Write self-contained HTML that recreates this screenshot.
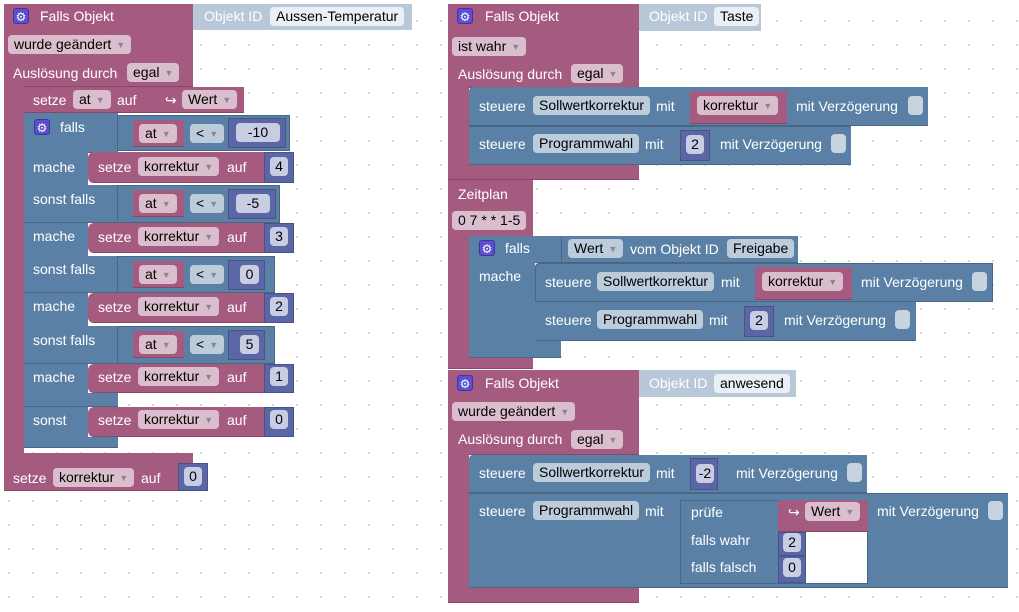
<!DOCTYPE html>
<html><head><meta charset="utf-8"><style>
*{margin:0;padding:0;box-sizing:border-box}
body{width:1019px;height:612px;overflow:hidden;background:#fff;
background-image:radial-gradient(circle,#d0d0d0 0.8px,transparent 1.2px);background-size:24px 24px;background-position:-3px 9px;
font-family:"Liberation Sans",Arial,sans-serif;font-size:14px;position:relative}
div{position:absolute}
.m{background:#a55b80;border-bottom:1px solid #84496a}
.u{background:#5b80a5;border-bottom:1px solid #496684}
.n{background:#5b67a5;border:1px solid #49528a}
.l{background:#b8c8d8}
.t{color:#fff;white-space:nowrap;line-height:19px;margin-top:1px}
.f{height:19px;line-height:19px;border-radius:4px;padding:0 6px;color:#000;white-space:nowrap}
.fm{background:#dbbecd}
.fu{background:#bdccdb}
.fl{background:#eaf0f5}
.fn{background:#c8cde3;text-align:center;padding:0}
.d{color:#888;font-size:9px;margin-left:5px;vertical-align:1px}
.g{width:16px;height:16px;background:#5b4fd0;border-radius:3px;color:#fff;font-size:12px;line-height:16px;text-align:center;border:1px solid #3d34a0}
.cb{width:15px;height:19px;background:#c7d3df;border-radius:4px}
.w{background:#fff}
</style></head><body>

<!-- LEFT -->
<div class="m" style="left:4px;top:4px;width:189px;height:83px"></div>
<div class="m" style="left:4px;top:4px;width:20px;height:461px;border:none"></div>
<div class="m" style="left:4px;top:453px;width:189px;height:12px"></div>
<div class="g" style="left:13px;top:8px">⚙</div>
<div class="t" style="left:40px;top:6px">Falls Objekt</div>
<div class="l" style="left:193px;top:4px;width:219px;height:26px"></div>
<div class="t" style="left:204px;top:6px">Objekt ID</div>
<div class="f fl" style="left:270px;top:7px">Aussen-Temperatur</div>
<div class="f fm" style="left:8px;top:35px">wurde geändert<span class="d">▼</span></div>
<div class="t" style="left:13px;top:63px">Auslösung durch</div>
<div class="f fm" style="left:127px;top:63px">egal<span class="d">▼</span></div>

<div class="m" style="left:24px;top:87px;width:220px;height:26px"></div>
<div class="t" style="left:33px;top:90px">setze</div>
<div class="f fm" style="left:73px;top:90px">at<span class="d">▼</span></div>
<div class="t" style="left:117px;top:90px">auf</div>
<div class="t" style="left:165px;top:90px">↪</div>
<div class="f fm" style="left:182px;top:90px">Wert<span class="d">▼</span></div>

<div class="u" style="left:24px;top:113px;width:94px;height:40px"></div>
<div class="u" style="left:24px;top:113px;width:64px;height:335px"></div>
<div class="u" style="left:24px;top:185px;width:94px;height:38px"></div>
<div class="u" style="left:24px;top:256px;width:94px;height:37px"></div>
<div class="u" style="left:24px;top:326px;width:94px;height:38px"></div>
<div class="u" style="left:24px;top:393px;width:94px;height:14px"></div>
<div class="u" style="left:24px;top:437px;width:94px;height:11px"></div>
<div class="g" style="left:34px;top:119px">⚙</div>
<div class="t" style="left:60px;top:117px">falls</div>
<div class="t" style="left:33px;top:157px">mache</div>
<div class="t" style="left:33px;top:189px">sonst falls</div>
<div class="t" style="left:33px;top:226px">mache</div>
<div class="t" style="left:33px;top:259px">sonst falls</div>
<div class="t" style="left:33px;top:296px">mache</div>
<div class="t" style="left:33px;top:330px">sonst falls</div>
<div class="t" style="left:33px;top:367px">mache</div>
<div class="t" style="left:33px;top:410px">sonst</div>

<!-- compare rows -->
<div class="u" style="left:117px;top:115px;width:173px;height:36px;border:1px solid #496684"></div>
<div class="m" style="left:133px;top:120px;width:51px;height:27px"></div>
<div class="f fm" style="left:139px;top:124px">at<span class="d">▼</span></div>
<div class="f fu" style="left:190px;top:124px">&lt;<span class="d">▼</span></div>
<div class="n" style="left:228px;top:118px;width:58px;height:30px"></div>
<div class="f fn" style="left:236px;top:123px;width:44px">-10</div>

<div class="u" style="left:117px;top:185px;width:163px;height:38px;border:1px solid #496684"></div>
<div class="m" style="left:133px;top:190px;width:51px;height:27px"></div>
<div class="f fm" style="left:139px;top:194px">at<span class="d">▼</span></div>
<div class="f fu" style="left:190px;top:194px">&lt;<span class="d">▼</span></div>
<div class="n" style="left:228px;top:189px;width:48px;height:30px"></div>
<div class="f fn" style="left:236px;top:194px;width:34px">-5</div>

<div class="u" style="left:117px;top:256px;width:158px;height:37px;border:1px solid #496684"></div>
<div class="m" style="left:133px;top:261px;width:51px;height:27px"></div>
<div class="f fm" style="left:139px;top:265px">at<span class="d">▼</span></div>
<div class="f fu" style="left:190px;top:265px">&lt;<span class="d">▼</span></div>
<div class="n" style="left:228px;top:260px;width:37px;height:30px"></div>
<div class="f fn" style="left:240px;top:265px;width:19px">0</div>

<div class="u" style="left:117px;top:326px;width:158px;height:38px;border:1px solid #496684"></div>
<div class="m" style="left:133px;top:331px;width:51px;height:27px"></div>
<div class="f fm" style="left:139px;top:335px">at<span class="d">▼</span></div>
<div class="f fu" style="left:190px;top:335px">&lt;<span class="d">▼</span></div>
<div class="n" style="left:228px;top:330px;width:37px;height:30px"></div>
<div class="f fn" style="left:240px;top:335px;width:19px">5</div>

<!-- setze rows -->
<div class="m" style="left:88px;top:152px;width:178px;height:31px;border-radius:6px 0 0 6px"></div>
<div class="t" style="left:98px;top:157px">setze</div>
<div class="f fm" style="left:138px;top:157px">korrektur<span class="d">▼</span></div>
<div class="t" style="left:227px;top:157px">auf</div>
<div class="n" style="left:264px;top:152px;width:30px;height:31px"></div>
<div class="f fn" style="left:270px;top:157px;width:18px">4</div>

<div class="m" style="left:88px;top:223px;width:178px;height:30px;border-radius:6px 0 0 6px"></div>
<div class="t" style="left:98px;top:227px">setze</div>
<div class="f fm" style="left:138px;top:227px">korrektur<span class="d">▼</span></div>
<div class="t" style="left:227px;top:227px">auf</div>
<div class="n" style="left:264px;top:223px;width:30px;height:30px"></div>
<div class="f fn" style="left:270px;top:227px;width:18px">3</div>

<div class="m" style="left:88px;top:293px;width:178px;height:30px;border-radius:6px 0 0 6px"></div>
<div class="t" style="left:98px;top:297px">setze</div>
<div class="f fm" style="left:138px;top:297px">korrektur<span class="d">▼</span></div>
<div class="t" style="left:227px;top:297px">auf</div>
<div class="n" style="left:264px;top:293px;width:30px;height:30px"></div>
<div class="f fn" style="left:270px;top:297px;width:18px">2</div>

<div class="m" style="left:88px;top:364px;width:178px;height:29px;border-radius:6px 0 0 6px"></div>
<div class="t" style="left:98px;top:367px">setze</div>
<div class="f fm" style="left:138px;top:367px">korrektur<span class="d">▼</span></div>
<div class="t" style="left:227px;top:367px">auf</div>
<div class="n" style="left:264px;top:364px;width:30px;height:29px"></div>
<div class="f fn" style="left:270px;top:367px;width:18px">1</div>

<div class="m" style="left:88px;top:407px;width:178px;height:30px;border-radius:6px 0 0 6px"></div>
<div class="t" style="left:98px;top:410px">setze</div>
<div class="f fm" style="left:138px;top:410px">korrektur<span class="d">▼</span></div>
<div class="t" style="left:227px;top:410px">auf</div>
<div class="n" style="left:264px;top:407px;width:30px;height:30px"></div>
<div class="f fn" style="left:270px;top:410px;width:18px">0</div>

<div class="m" style="left:4px;top:463px;width:176px;height:28px"></div>
<div class="t" style="left:13px;top:468px">setze</div>
<div class="f fm" style="left:53px;top:468px">korrektur<span class="d">▼</span></div>
<div class="t" style="left:141px;top:468px">auf</div>
<div class="n" style="left:178px;top:463px;width:30px;height:28px"></div>
<div class="f fn" style="left:184px;top:467px;width:18px">0</div>

<!-- RIGHT 1 -->
<div class="m" style="left:448px;top:4px;width:191px;height:84px"></div>
<div class="m" style="left:448px;top:4px;width:21px;height:176px;border:none"></div>
<div class="m" style="left:448px;top:165px;width:191px;height:15px"></div>
<div class="g" style="left:457px;top:8px">⚙</div>
<div class="t" style="left:485px;top:6px">Falls Objekt</div>
<div class="l" style="left:639px;top:4px;width:122px;height:27px"></div>
<div class="t" style="left:649px;top:6px">Objekt ID</div>
<div class="f fl" style="left:714px;top:7px">Taste</div>
<div class="f fm" style="left:452px;top:37px">ist wahr<span class="d">▼</span></div>
<div class="t" style="left:458px;top:64px">Auslösung durch</div>
<div class="f fm" style="left:571px;top:64px">egal<span class="d">▼</span></div>

<div class="u" style="left:469px;top:87px;width:459px;height:39px;border-radius:4px 0 0 0"></div>
<div class="t" style="left:479px;top:96px">steuere</div>
<div class="f fu" style="left:533px;top:96px">Sollwertkorrektur</div>
<div class="t" style="left:656px;top:96px">mit</div>
<div class="m" style="left:690px;top:91px;width:97px;height:33px"></div>
<div class="f fm" style="left:697px;top:96px">korrektur<span class="d">▼</span></div>
<div class="t" style="left:796px;top:96px">mit Verzögerung</div>
<div class="cb" style="left:908px;top:96px"></div>

<div class="u" style="left:469px;top:126px;width:382px;height:39px;border-top:1px solid #496684"></div>
<div class="t" style="left:479px;top:134px">steuere</div>
<div class="f fu" style="left:533px;top:134px">Programmwahl</div>
<div class="t" style="left:645px;top:134px">mit</div>
<div class="n" style="left:680px;top:130px;width:30px;height:31px"></div>
<div class="f fn" style="left:686px;top:135px;width:18px">2</div>
<div class="t" style="left:720px;top:134px">mit Verzögerung</div>
<div class="cb" style="left:831px;top:134px"></div>

<!-- Zeitplan -->
<div class="m" style="left:448px;top:180px;width:85px;height:56px;border:none"></div>
<div class="m" style="left:448px;top:180px;width:21px;height:189px;border:none"></div>
<div class="m" style="left:448px;top:358px;width:85px;height:11px"></div>
<div class="t" style="left:458px;top:184px">Zeitplan</div>
<div class="f fm" style="left:452px;top:211px">0 7 * * 1-5</div>

<div class="u" style="left:469px;top:236px;width:92px;height:27px"></div>
<div class="u" style="left:469px;top:236px;width:66px;height:122px"></div>
<div class="u" style="left:469px;top:341px;width:92px;height:17px"></div>
<div class="g" style="left:479px;top:240px">⚙</div>
<div class="t" style="left:505px;top:238px">falls</div>
<div class="t" style="left:479px;top:266px">mache</div>
<div class="u" style="left:561px;top:236px;width:237px;height:27px;border-left:1px solid #496684"></div>
<div class="f fu" style="left:568px;top:239px">Wert<span class="d">▼</span></div>
<div class="t" style="left:630px;top:239px">vom Objekt ID</div>
<div class="f fu" style="left:727px;top:239px">Freigabe</div>

<div class="u" style="left:535px;top:263px;width:458px;height:39px;border-radius:4px 0 0 0;border:1px solid #496684"></div>
<div class="t" style="left:545px;top:272px">steuere</div>
<div class="f fu" style="left:597px;top:272px">Sollwertkorrektur</div>
<div class="t" style="left:721px;top:272px">mit</div>
<div class="m" style="left:755px;top:267px;width:97px;height:33px"></div>
<div class="f fm" style="left:762px;top:272px">korrektur<span class="d">▼</span></div>
<div class="t" style="left:861px;top:272px">mit Verzögerung</div>
<div class="cb" style="left:972px;top:272px"></div>

<div class="u" style="left:535px;top:302px;width:381px;height:39px"></div>
<div class="t" style="left:545px;top:310px">steuere</div>
<div class="f fu" style="left:597px;top:310px">Programmwahl</div>
<div class="t" style="left:709px;top:310px">mit</div>
<div class="n" style="left:744px;top:306px;width:30px;height:31px"></div>
<div class="f fn" style="left:750px;top:311px;width:18px">2</div>
<div class="t" style="left:784px;top:310px">mit Verzögerung</div>
<div class="cb" style="left:895px;top:310px"></div>

<!-- RIGHT 3 -->
<div class="m" style="left:448px;top:370px;width:191px;height:85px"></div>
<div class="m" style="left:448px;top:370px;width:21px;height:233px;border:none"></div>
<div class="m" style="left:448px;top:588px;width:191px;height:15px"></div>
<div class="g" style="left:457px;top:375px">⚙</div>
<div class="t" style="left:485px;top:373px">Falls Objekt</div>
<div class="l" style="left:639px;top:370px;width:157px;height:27px"></div>
<div class="t" style="left:649px;top:373px">Objekt ID</div>
<div class="f fl" style="left:714px;top:374px">anwesend</div>
<div class="f fm" style="left:452px;top:402px">wurde geändert<span class="d">▼</span></div>
<div class="t" style="left:458px;top:429px">Auslösung durch</div>
<div class="f fm" style="left:571px;top:430px">egal<span class="d">▼</span></div>

<div class="u" style="left:469px;top:455px;width:398px;height:38px;border-radius:4px 0 0 0"></div>
<div class="t" style="left:479px;top:463px">steuere</div>
<div class="f fu" style="left:533px;top:463px">Sollwertkorrektur</div>
<div class="t" style="left:656px;top:463px">mit</div>
<div class="n" style="left:690px;top:458px;width:28px;height:32px"></div>
<div class="f fn" style="left:696px;top:464px;width:18px">-2</div>
<div class="t" style="left:736px;top:463px">mit Verzögerung</div>
<div class="cb" style="left:847px;top:463px"></div>

<div class="u" style="left:469px;top:493px;width:539px;height:95px;border-top:1px solid #496684"></div>
<div class="t" style="left:479px;top:501px">steuere</div>
<div class="f fu" style="left:533px;top:501px">Programmwahl</div>
<div class="t" style="left:645px;top:501px">mit</div>
<div class="u" style="left:680px;top:500px;width:188px;height:84px;border:1px solid #496684"></div>
<div class="w" style="left:806px;top:532px;width:61px;height:51px"></div>
<div class="t" style="left:691px;top:502px">prüfe</div>
<div class="t" style="left:691px;top:530px">falls wahr</div>
<div class="t" style="left:691px;top:557px">falls falsch</div>
<div class="m" style="left:778px;top:500px;width:90px;height:32px"></div>
<div class="t" style="left:788px;top:502px">↪</div>
<div class="f fm" style="left:805px;top:502px">Wert<span class="d">▼</span></div>
<div class="n" style="left:778px;top:532px;width:28px;height:24px"></div>
<div class="f fn" style="left:783px;top:533px;width:18px">2</div>
<div class="n" style="left:778px;top:556px;width:28px;height:27px"></div>
<div class="f fn" style="left:783px;top:558px;width:18px">0</div>
<div class="t" style="left:877px;top:501px">mit Verzögerung</div>
<div class="cb" style="left:988px;top:501px"></div>

</body></html>
